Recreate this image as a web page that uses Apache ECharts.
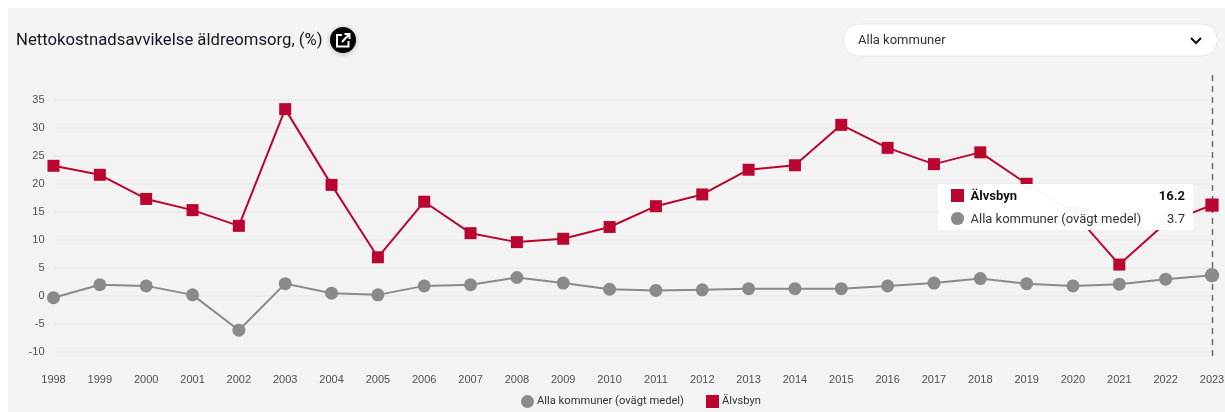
<!DOCTYPE html>
<html><head><meta charset="utf-8">
<style>
html,body{margin:0;padding:0;background:#fff;width:1225px;height:412px;overflow:hidden}
#c{position:absolute;left:0;top:0;width:1225px;height:412px}
</style></head><body><div id="c"></div>
<script src="https://cdn.jsdelivr.net/npm/echarts@6/dist/echarts.min.js"></script>
<script>
const years=['1998','1999','2000','2001','2002','2003','2004','2005','2006','2007','2008','2009','2010','2011','2012','2013','2014','2015','2016','2017','2018','2019','2020','2021','2022','2023'];
const alvsbyn=[23.2,21.6,17.3,15.3,12.5,33.3,19.8,6.9,16.8,11.2,9.6,10.2,12.3,16,18.1,22.5,23.3,30.5,26.4,23.5,25.6,20,15,5.6,13,16.2];
const allaKommuner=[-0.3,2,1.8,0.2,-6.1,2.2,0.5,0.2,1.8,2,3.3,2.3,1.2,1,1.1,1.3,1.3,1.3,1.8,2.3,3.1,2.2,1.8,2.1,3,3.7];
const titleText='Nettokostnadsavvikelse äldreomsorg, (%)';
const dropdownText='Alla kommuner';
const nameRed='Älvsbyn', nameGrey='Alla kommuner (ovägt medel)';
const RED='#b90530', GREY='#8a8a8a';
const chart=echarts.init(document.getElementById('c'),null,{renderer:'canvas'});
chart.setOption({
 animation:false,
 backgroundColor:'#fff',
 title:{text:titleText,left:11,top:27,textStyle:{fontFamily:'Roboto',fontSize:16.7,fontWeight:400,color:'#111722'}},
 legend:{top:395,left:521,itemGap:22,itemWidth:13,itemHeight:13,padding:0,
  textStyle:{fontFamily:'Roboto',fontSize:11.2,color:'#333',padding:[0,0,0,-2]},itemStyle:{borderWidth:0},
  data:[{name:nameGrey,icon:'circle'},{name:nameRed,icon:'rect'}]},
 grid:{left:53.5,right:13,top:99.6,height:252.5,containLabel:false,outerBoundsMode:'none'},
 xAxis:{type:'category',data:years,boundaryGap:false,axisLine:{show:false},axisTick:{show:false},splitLine:{show:false},
  axisLabel:{margin:22,fontFamily:'Liberation Sans',fontSize:11,color:'#505050',interval:0,showMinLabel:true,showMaxLabel:true}},
 yAxis:{type:'value',min:-10,max:35,interval:5,axisLine:{show:false},axisTick:{show:false},
  splitLine:{lineStyle:{color:'#e8e8e8',width:1.5}},
  axisLabel:{margin:9,fontFamily:'Liberation Sans',fontSize:11,color:'#505050'}},
 tooltip:{trigger:'axis',alwaysShowContent:true,transitionDuration:0,showDelay:0,hideDelay:0,
  backgroundColor:'rgba(255,255,255,0.97)',borderWidth:0,padding:0,extraCssText:'box-shadow:none;border-radius:0',
  axisPointer:{type:'none'},
  position:()=>[938,184],
  formatter:(ps)=>{
   const r=ps.find(p=>p.seriesName===nameRed), g=ps.find(p=>p.seriesName===nameGrey);
   const row=(name,val,sym,bold)=>`<div style="display:flex;align-items:center;height:23px;font-family:Roboto;font-size:13px;color:${bold?'#111':'#333'};font-weight:${bold?700:400}">${sym}<span style="margin-left:7px;flex:1">${name}</span><span>${val}</span></div>`;
   return `<div style="width:234px;height:46px;padding:0 8px 0 13px;box-sizing:content-box">`+
    row(nameRed,r.value,`<span style="width:12.5px;height:12.5px;background:${RED};display:inline-block"></span>`,true)+
    row(nameGrey,g.value,`<span style="width:12.5px;height:12.5px;border-radius:50%;background:${GREY};display:inline-block"></span>`,false)+`</div>`;
  }},
 series:[
  {name:nameGrey,type:'line',data:allaKommuner,symbol:'circle',symbolSize:13,showSymbol:true,
   lineStyle:{color:GREY,width:2},itemStyle:{color:GREY},emphasis:{disabled:true},z:2},
  {name:nameRed,type:'line',data:alvsbyn,symbol:'rect',symbolSize:12,showSymbol:true,
   lineStyle:{color:RED,width:2},itemStyle:{color:RED},emphasis:{disabled:true},z:3,
   markLine:{silent:true,symbol:'none',label:{show:false},animation:false,z:1,
    lineStyle:{color:'#666',type:[6,5],width:1.4},
    data:[[{xAxis:years[years.length-1],y:75},{xAxis:years[years.length-1],y:360}]]}}
 ],
 graphic:[
  {type:'rect',z:-10,shape:{x:8,y:8,width:1217,height:404},style:{fill:'#f3f3f3'}},
  {type:'circle',z:5,shape:{cx:343,cy:40,r:13},style:{fill:'#000',shadowBlur:5,shadowColor:'rgba(0,0,0,0.25)',shadowOffsetY:1}},
  {type:'polyline',z:6,shape:{points:[[342,35],[337,35],[337,46.5],[348.5,46.5],[348.5,41]]},style:{fill:null,stroke:'#fff',lineWidth:2}},
  {type:'polyline',z:6,shape:{points:[[342,42],[349,34.5]]},style:{stroke:'#fff',lineWidth:2}},
  {type:'polyline',z:6,shape:{points:[[344.5,34],[349.5,34],[349.5,39]]},style:{fill:null,stroke:'#fff',lineWidth:2}},
  {type:'rect',z:5,shape:{x:843.5,y:24,width:374,height:32,r:16},style:{fill:'#fff',stroke:'#e8e8e8',lineWidth:1}},
  {type:'text',z:6,x:858,y:34,style:{text:dropdownText,fontFamily:'Roboto',fontSize:13,fill:'#333'}},
  {type:'polyline',z:6,shape:{points:[[1191,38],[1196,43],[1201,38]]},style:{fill:null,stroke:'#111',lineWidth:2}}
 ]
});
chart.dispatchAction({type:'showTip',seriesIndex:1,dataIndex:years.length-1});
</script></body></html>
